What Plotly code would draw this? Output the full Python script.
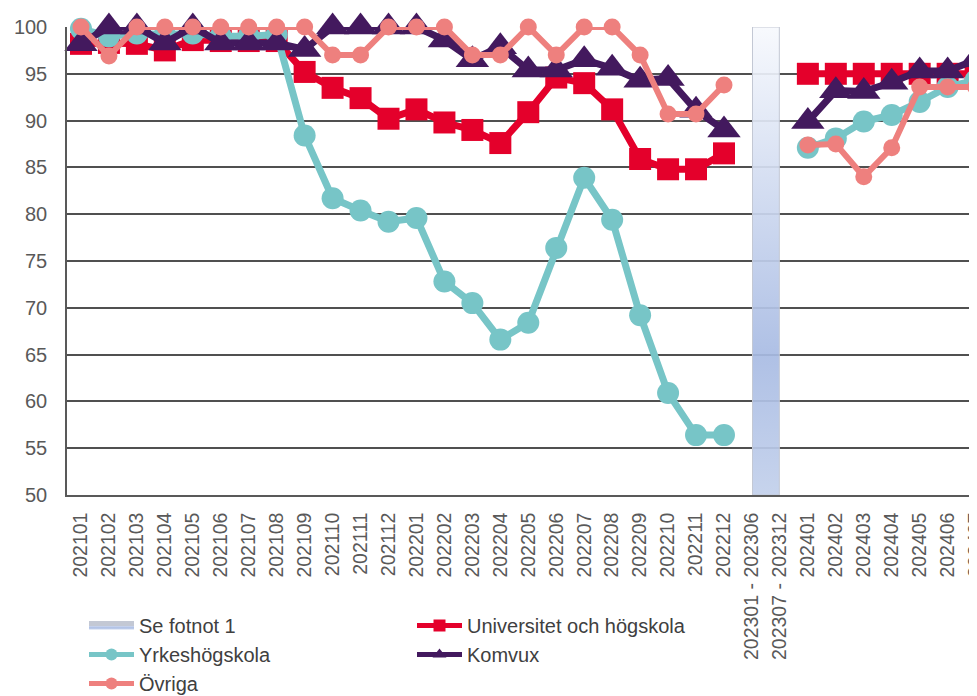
import plotly.graph_objects as go

categories = [
    "202101", "202102", "202103", "202104", "202105", "202106", "202107", "202108",
    "202109", "202110", "202111", "202112",
    "202201", "202202", "202203", "202204", "202205", "202206", "202207", "202208",
    "202209", "202210", "202211", "202212",
    "202301 - 202306", "202307 - 202312",
    "202401", "202402", "202403", "202404", "202405", "202406", "202407",
]

universitet = [98.2, 98.3, 98.2, 97.5, 98.6, 98.5, 98.5, 98.5, 95.2, 93.5, 92.4, 90.2,
               91.2, 89.8, 89.0, 87.6, 90.9, 94.6, 94.0, 91.2, 85.9, 84.8, 84.8, 86.5,
               None, None, 95.0, 95.0, 95.0, 95.0, 95.0, 95.0, 95.0]
yrkeshogskola = [99.8, 99.0, 99.3, 99.2, 99.3, 99.0, 99.0, 99.2, 88.4, 81.7, 80.4, 79.2,
                 79.6, 72.8, 70.5, 66.6, 68.4, 76.4, 83.9, 79.4, 69.2, 60.9, 56.4, 56.4,
                 None, None, 87.1, 88.1, 89.9, 90.6, 92.0, 93.6, 94.3]
komvux = [98.2, 100, 100, 98.3, 100, 98.3, 98.3, 98.3, 97.6, 100, 100, 100,
          100, 98.6, 96.5, 97.9, 95.4, 95.4, 96.5, 95.6, 94.3, 94.5, 91.1, 89.0,
          None, None, 89.9, 93.2, 93.1, 94.1, 95.3, 95.3, 96.5]
ovriga = [100, 96.9, 100, 100, 100, 100, 100, 100, 100, 97.0, 97.0, 100,
          100, 100, 97.0, 97.0, 100, 97.0, 100, 100, 97.0, 90.7, 90.7, 93.8,
          None, None, 87.4, 87.5, 84.0, 87.1, 93.6, 93.6, 93.6]

footnote_categories = ["202301 - 202306", "202307 - 202312"]
footnote_value = 100

y_ticks = [50, 55, 60, 65, 70, 75, 80, 85, 90, 95, 100]
y_min, y_max = 50, 100

xs = list(range(len(categories)))

W, H = 969, 688  # page body adds an 8px margin

fig = go.Figure()

# Footnote band (gradient bar) spanning the two half-year categories
idx = [categories.index(c) for c in footnote_categories]
center = sum(idx) / len(idx)
half = 0.48
bx = [center - half, center + half, center + half, center - half, center - half]
by = [y_min, y_min, footnote_value, footnote_value, y_min]
fig.add_trace(go.Scatter(
    x=bx, y=by, mode="lines", fill="toself", name="Se fotnot 1",
    line=dict(color="#c3c8d4", width=1),
    fillgradient=dict(type="vertical", start=y_min, stop=footnote_value,
                      colorscale=[[0, "rgba(194,208,235,0.92)"], [0.3, "rgba(168,187,227,0.92)"],
                                  [1, "rgba(247,249,253,0.92)"]]),
    hoverinfo="skip",
))

series = [
    ("Universitet och högskola", universitet, "#e4002b", "square", 22, 7),
    ("Yrkeshögskola", yrkeshogskola, "#77c5c7", "circle", 22, 7),
    ("Komvux", komvux, "#43195e", "triangle-up", 29, 7),
    ("Övriga", ovriga, "#ee807e", "circle", 17, 6),
]
for name, vals, color, sym, size, lw in series:
    fig.add_trace(go.Scatter(
        x=xs, y=vals, name=name, mode="lines+markers",
        line=dict(color=color, width=lw),
        marker=dict(color=color, symbol=sym, size=size, line=dict(width=0)),
        cliponaxis=False, connectgaps=False,
    ))

fig.update_layout(
    width=W, height=H,
    margin=dict(l=59, r=0, t=19, b=H - 19 - 468, autoexpand=False),
    paper_bgcolor="white", plot_bgcolor="white",
    font=dict(family="Liberation Sans, Arial, sans-serif", color="#595959"),
    showlegend=True,
    legend=dict(
        orientation="h", xref="container", yref="container",
        x=76 / W, y=1 - 598 / H, xanchor="left", yanchor="top",
        entrywidth=268, entrywidthmode="pixels", itemwidth=45,
        font=dict(size=20, color="#404040"), itemsizing="constant",
        traceorder="normal", tracegroupgap=0,
        bgcolor="rgba(0,0,0,0)",
    ),
)
fig.update_xaxes(
    range=[-0.5, 32.05], tickmode="array", tickvals=xs, ticktext=categories,
    tickangle=-90, tickfont=dict(size=19.5, color="#595959"),
    showgrid=False, zeroline=False, showline=True, linecolor="#595959", linewidth=1.5,
    ticks="", ticklabelstandoff=8, automargin=False, ticklabeloverflow="allow",
)
fig.update_yaxes(
    range=[y_min, y_max], tickmode="array", tickvals=y_ticks,
    tickfont=dict(size=20, color="#595959"),
    showgrid=True, gridcolor="#505050", gridwidth=1.5, zeroline=False,
    showline=True, linecolor="#595959", linewidth=1.5, ticks="", ticklabelstandoff=14,
    automargin=False,
)

fig.write_html("out.html")
